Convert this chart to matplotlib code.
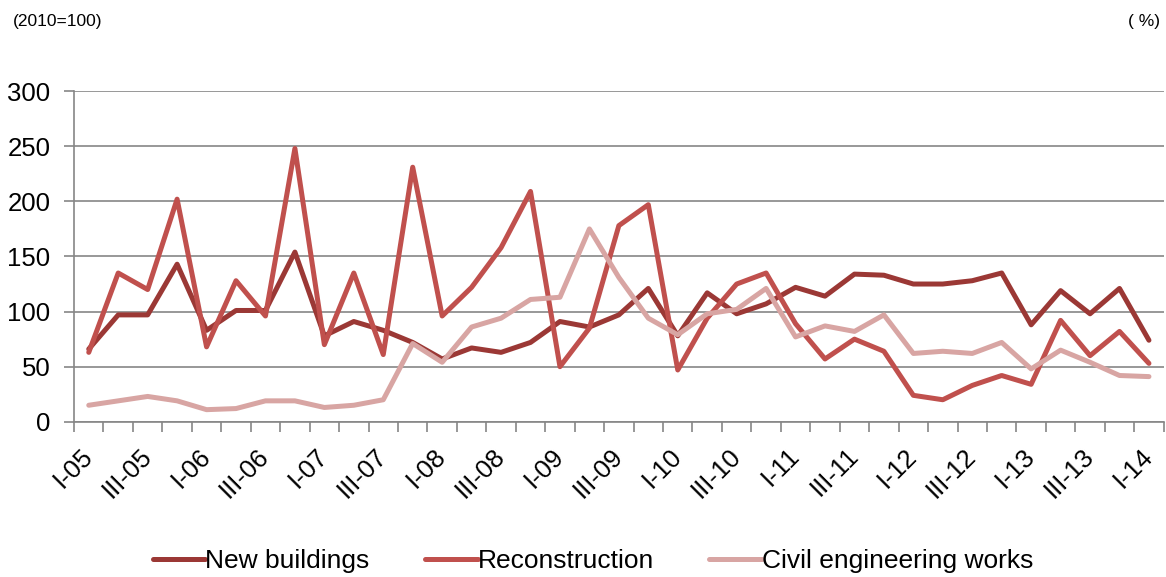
import numpy as np
import matplotlib.pyplot as plt

plt.rcParams["font.family"] = ["Liberation Sans", "DejaVu Sans"]

years = ["05", "06", "07", "08", "09", "10", "11", "12", "13"]
quarters = [q + "-" + y for y in years for q in ["I", "II", "III", "IV"]] + ["I-14"]

new_buildings = [66, 97, 97, 143, 83, 101, 101, 154, 78, 91, 83, 72,
                 57, 67, 63, 72, 91, 86, 97, 121, 78, 117, 98, 107,
                 122, 114, 134, 133, 125, 125, 128, 135, 88, 119, 98, 121, 74]
reconstruction = [63, 135, 120, 202, 68, 128, 96, 248, 70, 135, 61, 231,
                  96, 122, 158, 209, 50, 85, 178, 197, 47, 94, 125, 135,
                  89, 57, 75, 64, 24, 20, 33, 42, 34, 92, 60, 82, 53]
civil_works = [15, 19, 23, 19, 11, 12, 19, 19, 13, 15, 20, 71,
               54, 86, 94, 111, 113, 175, 131, 94, 79, 98, 102, 121,
               77, 87, 82, 97, 62, 64, 62, 72, 48, 65, 54, 42, 41]

series = [
    ("New buildings", new_buildings, "#9B3835"),
    ("Reconstruction", reconstruction, "#C0504D"),
    ("Civil engineering works", civil_works, "#D8A5A3"),
]

fig = plt.figure(figsize=(11.66, 5.77), dpi=100)
ax = fig.add_axes([0.0635, 0.269, 0.9345, 0.573])

x = np.arange(len(quarters))
for name, values, color in series:
    ax.plot(x, values, color=color, linewidth=3.6, label=name,
            solid_joinstyle="round", solid_capstyle="round")

grid_color = "#868686"
ax.set_ylim(0, 300)
ax.set_yticks(np.arange(0, 301, 50))
ax.yaxis.grid(True, color=grid_color, linewidth=1.2)
ax.set_axisbelow(True)
ax.tick_params(axis="y", labelsize=18.5, length=7, color=grid_color, width=1.2, pad=10)

ax.set_xlim(-0.5, len(quarters) - 0.5)
ax.set_xticks(np.arange(-0.5, len(quarters), 1.0))
ax.set_xticklabels([])
ax.tick_params(axis="x", which="major", length=7, color=grid_color, width=1.2)
ax.set_xticks(x[::2], minor=True)
ax.set_xticklabels(quarters[::2], minor=True, rotation=45, ha="right",
                   va="center", rotation_mode="anchor", fontsize=18.5)
ax.tick_params(axis="x", which="minor", length=0, pad=22)

for side in ["top", "right"]:
    ax.spines[side].set_visible(False)
for side in ["left", "bottom"]:
    ax.spines[side].set_color(grid_color)
    ax.spines[side].set_linewidth(1.2)

fig.text(0.011, 0.962, "(2010=100)", fontsize=12.5, va="center")
fig.text(0.967, 0.962, "( %)", fontsize=12.5, va="center")

fig.legend(loc="lower center", bbox_to_anchor=(0.5086, -0.035), ncol=3,
           frameon=False, fontsize=19, handlelength=2.0, handletextpad=0.0,
           columnspacing=2.1)

fig.savefig("out.png", dpi=100)
